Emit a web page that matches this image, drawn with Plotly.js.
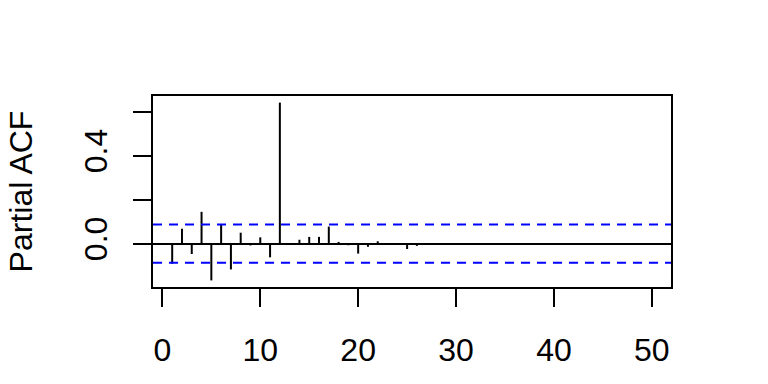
<!DOCTYPE html>
<html>
<head>
<meta charset="utf-8">
<script src="https://cdn.plot.ly/plotly-3.0.1.min.js"></script>
<style>html,body{margin:0;padding:0;background:#fff;}#chart{width:768px;height:384px;}</style>
</head>
<body>
<div id="chart"></div>
<script>
// Lags 1..50 and partial autocorrelations
var lags = [1,2,3,4,5,6,7,8,9,10,11,12,13,14,15,16,17,18,19,20,21,22,23,24,25,
            26,27,28,29,30,31,32,33,34,35,36,37,38,39,40,41,42,43,44,45,46,47,48,49,50];
var pacfValues = [-0.091, 0.068, -0.047, 0.145, -0.167, 0.085, -0.117, 0.050, -0.008, 0.029,
                  -0.062, 0.642, -0.003, 0.018, 0.031, 0.031, 0.078, 0.008, -0.007, -0.045,
                  -0.014, 0.011, 0.002, -0.002, -0.024, -0.010, 0.002, -0.001, 0.001, -0.002,
                  0.001, 0.002, -0.001, 0.001, -0.001, 0.002, -0.002, 0.001, 0.001, -0.001,
                  0.002, -0.001, 0.001, -0.002, 0.001, 0.001, -0.001, 0.002, -0.001, 0.001];
var confLimit = 0.087;
var xTickVals = [0, 10, 20, 30, 40, 50];
var yTickVals = [0, 0.2, 0.4, 0.6];
var yTickText = ["0.0", "", "0.4", ""];
var yTitle = "Partial ACF";

var xs = [], ys = [];
for (var i = 0; i < lags.length; i++) {
  xs.push(lags[i], lags[i], null);
  ys.push(0, pacfValues[i], null);
}

var trace = {
  x: xs, y: ys, type: 'scatter', mode: 'lines',
  line: {color: '#000000', width: 2},
  hoverinfo: 'skip', showlegend: false
};

var font = {family: 'Liberation Sans, Arial, sans-serif', size: 32, color: '#000'};

var layout = {
  width: 768, height: 384,
  margin: {l: 153, r: 97, t: 96, b: 97, pad: 0},
  paper_bgcolor: '#fff', plot_bgcolor: '#fff',
  font: font,
  showlegend: false,
  xaxis: {
    range: [-0.96, 51.96],
    tickvals: xTickVals,
    ticktext: xTickVals.map(String),
    ticks: 'outside', ticklen: 18, tickwidth: 2, tickcolor: '#000',
    showline: true, linecolor: '#000', linewidth: 2, mirror: true,
    showgrid: false, zeroline: false,
    tickfont: font,
    ticklabelstandoff: 16
  },
  yaxis: {
    range: [-0.197, 0.672],
    tickvals: yTickVals,
    ticktext: yTickText,
    tickangle: -90,
    ticks: 'outside', ticklen: 18, tickwidth: 2, tickcolor: '#000',
    showline: true, linecolor: '#000', linewidth: 2, mirror: true,
    showgrid: false,
    zeroline: true, zerolinecolor: '#000', zerolinewidth: 2,
    tickfont: font,
    ticklabelstandoff: 13,
    title: {text: yTitle, font: font, standoff: 36}
  },
  shapes: [
    {type: 'line', xref: 'paper', x0: 0, x1: 1, yref: 'y', y0: confLimit, y1: confLimit,
     line: {color: '#0000ff', width: 2, dash: '9px,7px'}},
    {type: 'line', xref: 'paper', x0: 0, x1: 1, yref: 'y', y0: -confLimit, y1: -confLimit,
     line: {color: '#0000ff', width: 2, dash: '9px,7px'}}
  ]
};

Plotly.newPlot('chart', [trace], layout, {staticPlot: true, displayModeBar: false});
</script>
</body>
</html>
